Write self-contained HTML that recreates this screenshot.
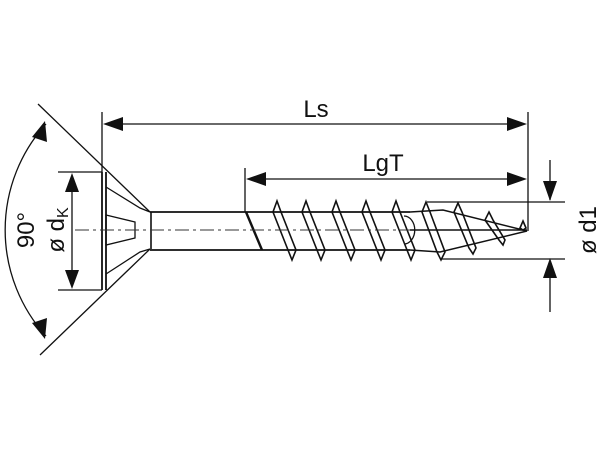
<!DOCTYPE html>
<html><head><style>html,body{margin:0;padding:0;background:#fff}svg{display:block}</style></head><body>
<svg width="600" height="450" viewBox="0 0 600 450" xmlns="http://www.w3.org/2000/svg" font-family="Liberation Sans, sans-serif">
<g stroke="#111" fill="none" stroke-width="1.3">
<line x1="102" y1="112" x2="102" y2="172"/>
<line x1="528" y1="112" x2="528" y2="231"/>
<line x1="245" y1="168" x2="245" y2="212"/>
<line x1="58" y1="172" x2="102" y2="172"/>
<line x1="58" y1="290" x2="102" y2="290"/>
<line x1="427" y1="202" x2="565" y2="202"/>
<line x1="441" y1="259" x2="565" y2="259"/>
<line x1="110" y1="124" x2="520" y2="124"/>
<line x1="253" y1="179" x2="520" y2="179"/>
<line x1="72" y1="180" x2="72" y2="282"/>
<line x1="550" y1="160" x2="550" y2="200"/>
<line x1="550" y1="261" x2="550" y2="312"/>
<line x1="38" y1="104" x2="150" y2="212"/>
<line x1="40" y1="355" x2="150" y2="249"/>
<path d="M46,124 A158,158 0 0 0 46,336"/>
<line x1="102" y1="172" x2="102" y2="290" stroke-width="1.8"/>
<line x1="106" y1="172" x2="106" y2="290" stroke-width="1.8"/>
<polyline points="106,187 140,208 150,212"/>
<polyline points="106,274 140,252 150,249"/>
<polygon points="106,215 135,222 135,238 106,245"/>
<line x1="151" y1="212" x2="151" y2="249" stroke-width="1.6"/>
<line x1="150" y1="212" x2="410" y2="212" stroke-width="1.7"/>
<line x1="150" y1="250" x2="410" y2="250" stroke-width="1.7"/>
<line x1="246" y1="212" x2="262" y2="250" stroke-width="2.4"/>
<g stroke-width="1.6">
<polygon points="277,201 281,212 296,250 292,260 288,250 273,212"/>
<polygon points="306,201 310,212 325,250 321,260 317,250 302,212"/>
<polygon points="336,201 340,212 355,250 351,260 347,250 332,212"/>
<polygon points="366,201 370,212 385,250 381,260 377,250 362,212"/>
<polygon points="396,201 400,212 415,250 411,260 407,250 392,212"/>
<polygon points="426,202 430,212 445,252 441,260 437,252 422,212"/>
<polygon points="458,203 462,212 476,248 473,254 469,248 454,212"/>
<polygon points="489,212 493,220 505,240 503,245 499,240 485,220"/>
<polygon points="523,221 526,228 523,230 520,228"/>
</g>
<path d="M404,216 A10,13 0 0 1 404,244"/>
<polyline points="410,212 443,210 527,231 440,252 410,250" stroke-width="1.5"/>
<line x1="410" y1="230" x2="527" y2="230" stroke-width="1.5"/>
</g>
<line x1="75" y1="230" x2="410" y2="230" stroke="#333" stroke-width="1" stroke-dasharray="14,4,3,4"/>
<g fill="#111">
<polygon points="103,124 123,117 123,131"/>
<polygon points="527,124 507,117 507,131"/>
<polygon points="246,179 266,172 266,186"/>
<polygon points="527,179 507,172 507,186"/>
<polygon points="72,173 65,192 79,192"/>
<polygon points="72,289 65,270 79,270"/>
<polygon points="550,201 543,181 557,181"/>
<polygon points="550,258 543,278 557,278"/>
<polygon points="45,121 32,137 47,142"/>
<polygon points="45,339 32,323 47,318"/>
</g>
<g fill="#111" font-size="24">
<text x="316" y="117" text-anchor="middle">Ls</text>
<text x="383" y="171" text-anchor="middle">LgT</text>
<text transform="translate(596,230) rotate(-90)" text-anchor="middle">ø d1</text>
<text transform="translate(34,230) rotate(-90)" text-anchor="middle">90°</text>
<text transform="translate(64,230) rotate(-90)" text-anchor="middle">ø d<tspan font-size="16" dy="4">K</tspan></text>
</g>
</svg>
</body></html>
